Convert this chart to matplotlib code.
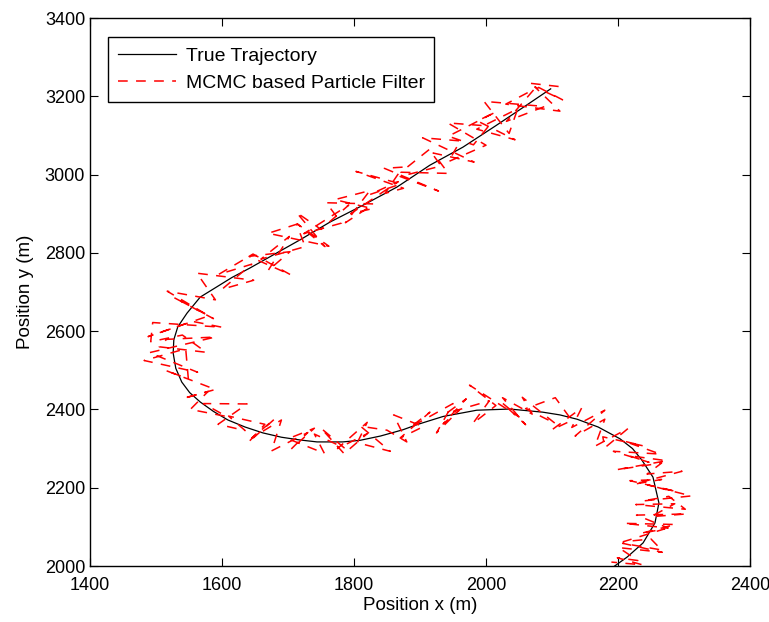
import matplotlib
matplotlib.use("Agg")
import matplotlib.pyplot as plt

plt.rcParams['font.family'] = ['Liberation Sans', 'DejaVu Sans']
plt.rcParams['font.size'] = 13.5
plt.rcParams['lines.scale_dashes'] = False

# true target path (m)
true_x = [2098, 2062, 2015, 1965, 1915, 1865, 1814, 1764, 1718, 1680, 1642, 1615,
          1592, 1567, 1547, 1533, 1527, 1526, 1530, 1539, 1551, 1567, 1587, 1609,
          1635, 1662, 1690, 1718, 1744, 1783, 1809, 1840, 1874, 1897, 1935, 1986,
          2036, 2086, 2112, 2138, 2170, 2203, 2222, 2236, 2253, 2262, 2256, 2238,
          2214, 2195, 2188]
true_y = [3219, 3178, 3125, 3070, 3024, 2968, 2922, 2879, 2833, 2797, 2761, 2737,
          2713, 2687, 2646, 2611, 2578, 2544, 2505, 2470, 2443, 2419, 2395, 2373,
          2355, 2340, 2329, 2322, 2317, 2317, 2321, 2332, 2348, 2362, 2382, 2398,
          2401, 2393, 2386, 2375, 2355, 2325, 2300, 2271, 2227, 2161, 2110, 2059,
          2023, 2000, 1992]

# MCMC particle filter estimate (m)
est_x = [2110, 2068, 2116, 2074, 2112, 2030, 2073, 2031, 2089, 1997,
         2035, 2048, 1986, 2044, 1987, 2015, 1943, 1981, 2004, 1942,
         2000, 1943, 1961, 1904, 1982, 1920, 1943, 1871, 1914, 1932,
         1870, 1928, 1846, 1874, 1847, 1875, 1803, 1871, 1824, 1867,
         1795, 1828, 1771, 1824, 1787, 1830, 1758, 1781, 1724, 1792,
         1750, 1713, 1756, 1714, 1762, 1670, 1713, 1726, 1659, 1702,
         1670, 1703, 1641, 1704, 1647,
         1595, 1645, 1600, 1648, 1562, 1590, 1517, 1587, 1527, 1580,
         1488, 1555, 1600, 1495, 1492, 1540, 1576, 1505, 1516, 1590,
         1490, 1563, 1482, 1545, 1549, 1514, 1590, 1541, 1579, 1552,
         1607, 1572, 1638, 1594,
         1635, 1610, 1665, 1640, 1680, 1645, 1690, 1675, 1730, 1705,
         1740, 1700, 1755, 1740, 1785, 1750, 1785, 1820, 1775, 1820,
         1805, 1855, 1810, 1850, 1880, 1860, 1905, 1870, 1915, 1885,
         1950, 1925, 1960, 1935, 1970, 1940, 2005, 1980, 2015, 1975,
         2050, 2025, 2060, 2025, 2070, 2055, 2105, 2060, 2105, 2130,
         2100, 2145, 2130, 2180, 2135, 2180, 2165, 2215, 2180,
         2177, 2238, 2209, 2264, 2193, 2247, 2216, 2274, 2198, 2266,
         2244, 2297, 2224, 2266, 2218, 2289, 2245, 2311, 2237, 2277,
         2302, 2227, 2286, 2250, 2304, 2228, 2276, 2209, 2287, 2234,
         2271, 2208, 2250, 2266, 2207, 2267, 2201, 2230, 2199, 2237,
         2190]
est_y = [3225, 3233, 3191, 3224, 3162, 3180, 3218, 3136, 3174, 3187,
         3105, 3168, 3116, 3089, 3137, 3160, 3098, 3076, 3124, 3132,
         3075, 3033, 3086, 3094, 3032, 3055, 3003, 3006, 3064, 3022,
         2995, 2958, 3016, 3019, 2952, 2965, 3008, 2976, 2949, 2982,
         2900, 2913, 2936, 2959, 2877, 2925, 2928, 2876, 2849, 2922,
         2860, 2903, 2816, 2874, 2817, 2850, 2873, 2816, 2784, 2842,
         2755, 2803, 2791, 2744, 2797,
         2745, 2771, 2707, 2730, 2748, 2680, 2702, 2632, 2686, 2639,
         2586, 2625, 2610, 2622, 2573, 2590, 2546, 2560, 2579, 2585,
         2545, 2495, 2525, 2555, 2478, 2500, 2451, 2428, 2446, 2400,
         2382, 2415, 2414, 2362,
         2346, 2383, 2362, 2316, 2376, 2327, 2373, 2294, 2341, 2299,
         2352, 2325, 2288, 2337, 2302, 2352, 2287, 2338, 2300, 2367,
         2315, 2293, 2357, 2347, 2317, 2386, 2356, 2327, 2393, 2354,
         2415, 2340, 2399, 2363, 2427, 2390, 2422, 2364, 2410, 2462,
         2381, 2416, 2361, 2430, 2388, 2431, 2364, 2402, 2430, 2372,
         2348, 2404, 2354, 2398, 2332, 2375, 2306, 2351, 2302,
         2330, 2307, 2319, 2286, 2293, 2265, 2282, 2269, 2246, 2263,
         2235, 2242, 2209, 2221, 2218, 2190, 2207, 2179, 2166, 2178,
         2145, 2157, 2159, 2126, 2133, 2130, 2097, 2109, 2106, 2083,
         2095, 2062, 2069, 2041, 2058, 2035, 2047, 2014, 2021, 2003,
         2010]

fig = plt.figure(figsize=(7.69, 6.22), dpi=100)
ax = fig.add_axes([90 / 769, 56 / 622, 660 / 769, 548 / 622])

ax.plot(true_x, true_y, color='black', lw=0.9, label='True Trajectory')
ax.plot(est_x, est_y, color='red', lw=1.1, dashes=(7, 6),
        label='MCMC based Particle Filter')

ax.set_xlim(1400, 2400)
ax.set_ylim(2000, 3400)
ax.set_xticks(range(1400, 2401, 200))
ax.set_yticks(range(2000, 3401, 200))
ax.tick_params(direction='in', length=6, top=True, right=True, width=0.8,
               labelsize=13)
ax.tick_params(axis='x', pad=8)
for s in ax.spines.values():
    s.set_linewidth(1.0)

ax.set_xlabel('Position x (m)', labelpad=2)
ax.set_ylabel('Position y (m)', labelpad=8)

leg = ax.legend(loc='upper left', bbox_to_anchor=(0.027, 0.965), borderaxespad=0,
                fancybox=False, framealpha=1, edgecolor='black', fontsize=14,
                handlelength=3.0, handletextpad=0.5, borderpad=0.5,
                labelspacing=0.5)
leg.get_frame().set_linewidth(1.0)

fig.savefig('out.png', dpi=100)
